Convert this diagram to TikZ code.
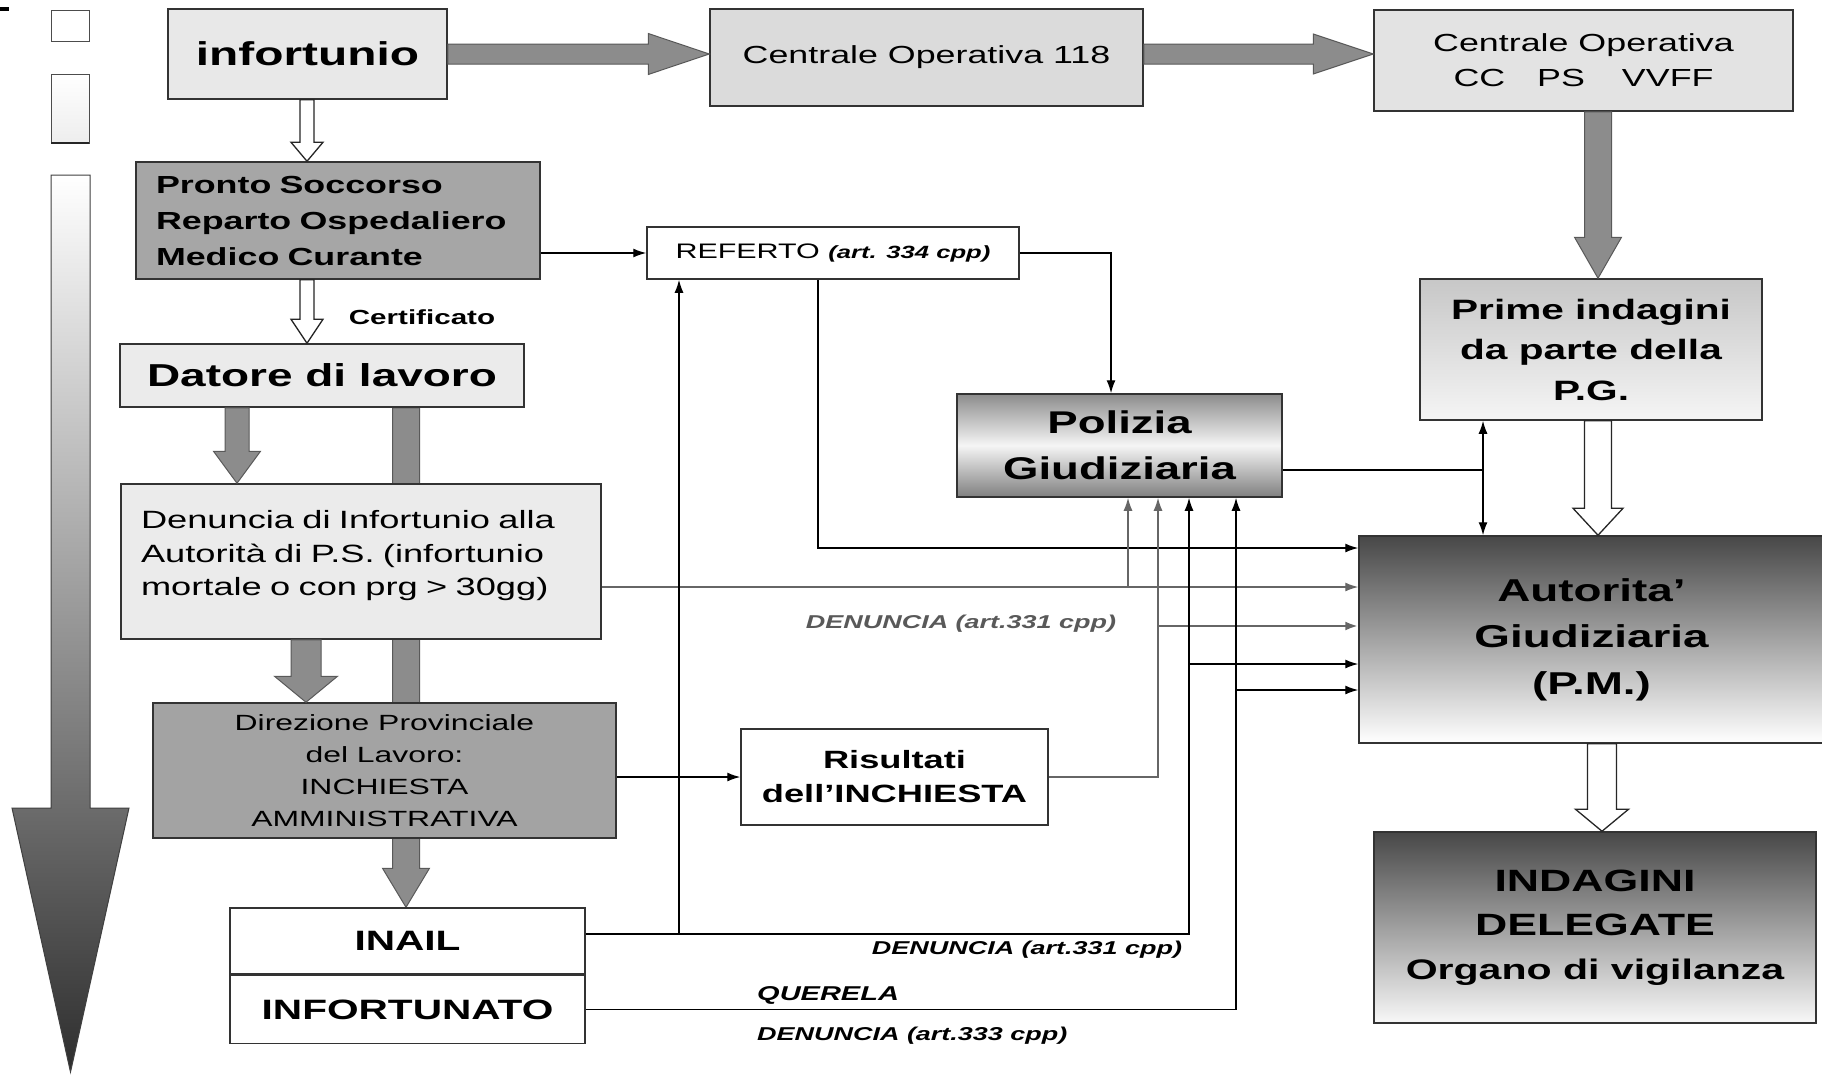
\documentclass[tikz,border=0pt]{standalone}
\usepackage{fontspec}
\setmainfont{Liberation Sans}[FakeStretch=1.45]
\usepackage{tikz}
\usetikzlibrary{calc, positioning, backgrounds, arrows.meta}
\newcommand{\setfs}[2]{\fontsize{#1}{#2}\selectfont}
% block arrow: style, from, to, half shaft, half head, head length
\newcommand{\blockarrow}[6]{%
  \coordinate (ba-s) at ($(#3)!#6!(#2)$);
  \draw [#1] ($(#2)!#4!90:(#3)$) -- ($(ba-s)!#4!90:(#3)$) -- ($(ba-s)!#5!90:(#3)$) -- (#3)
    -- ($(ba-s)!#5!-90:(#3)$) -- ($(ba-s)!#4!-90:(#3)$) -- ($(#2)!#4!-90:(#3)$) -- cycle;
}
\tikzset{
    boxnode/.style = {draw=black!80, line width=1.5pt, rectangle, inner sep=0pt, align=center, node distance=0em},
    lightnode/.style = {boxnode, fill=black!9},
    darknode/.style = {boxnode, fill=black!35},
    whitenode/.style = {boxnode, fill=white},
    textnode/.style = {draw=none, fill=none, rectangle, inner sep=0pt, node distance=0em},
    connect/.style = {black, line width=1.4pt, -{Latex[length=13pt, width=9pt]}},
    grayconnect/.style = {connect, black!60},
    plainline/.style = {black, line width=1.4pt},
    grayarrow/.style = {fill=black!45, draw=black!65, line width=1pt},
    openarrow/.style = {fill=white, draw=black!85, line width=1.3pt},
    labelfont/.style = {font=\setfs{18.6}{22}\bfseries\itshape}
}
\begin{document}
\begin{tikzpicture}[x=1pt, y=-1pt]
    \useasboundingbox (0,0) rectangle (1822,1074);

    % time arrow on the left
    \fill [black] (0,7) rectangle (9,11);
    \draw [black!70, line width=1pt, fill=white] (51,10) rectangle (89,41);
    \shadedraw [top color=white, bottom color=black!7, draw=black!70, line width=1pt] (51,74) rectangle (89,143);
    \draw [black!85, line width=2pt] (51,143) -- (89,143);
    \shadedraw [top color=white, bottom color=black!82, draw=black!75, line width=1pt]
        (51,175) -- (51,808) -- (12,808) -- (70.5,1072) -- (129,808) -- (90,808) -- (90,175) -- cycle;

    % top row
    \node [name=infortunio, lightnode, minimum width=279, minimum height=90,
        font=\setfs{33}{36}\bfseries] at (307.5,54) {infortunio};
    \node [name=co118, boxnode, fill=black!14, minimum width=433, minimum height=97,
        font=\setfs{24.7}{30}] at (926.5,57.5) {Centrale Operativa 118};
    \node [name=cc, boxnode, fill=black!11, minimum width=419, minimum height=101,
        font=\setfs{24.7}{35}] at (1583.5,60.5) {Centrale Operativa\\CC\hspace{32pt}PS\hspace{37pt}VVFF};

    % left column
    \node [name=pronto, darknode, minimum width=404, minimum height=117, text width=364, align=left,
        font=\setfs{24.7}{36}\bfseries] at (338,220.5) {Pronto Soccorso\\Reparto Ospedaliero\\Medico Curante};
    \node [name=certificato, textnode, font=\setfs{20.4}{24}\bfseries] at (422,317) {Certificato};
    \node [name=datore, boxnode, fill=black!8, minimum width=404, minimum height=63,
        font=\setfs{31.7}{36}\bfseries] at (322,375.5) {Datore di lavoro};
    \node [name=denuncia, boxnode, fill=black!8, minimum width=480, minimum height=155, text width=440, align=left,
        font=\setfs{25}{33.5}] at (361,561.5) {Denuncia di Infortunio alla\\Autorità di P.S. (infortunio\\mortale o con prg > 30gg)\\[-17pt]\mbox{}};
    \node [name=direzione, darknode, fill=black!36, minimum width=463, minimum height=135,
        font=\setfs{22}{32}] at (384.5,770.5) {Direzione Provinciale\\del Lavoro:\\INCHIESTA\\AMMINISTRATIVA};
    \node [name=inail, whitenode, minimum width=355, minimum height=66,
        font=\setfs{28}{32}\bfseries] at (407.5,941) {INAIL};
    \node [name=infortunato, whitenode, minimum width=355, minimum height=68,
        font=\setfs{28}{32}\bfseries, below=0pt of inail] {INFORTUNATO};

    % middle
    \node [name=referto, whitenode, minimum width=372, minimum height=52,
        font=\setfs{21}{24}] at (833,253) {REFERTO {\setfs{17.7}{20}\bfseries\itshape (art. 334 cpp)}};
    \node [name=risultati, whitenode, minimum width=307, minimum height=96,
        font=\setfs{25}{34}\bfseries] at (894.5,777) {Risultati\\dell’INCHIESTA};
    \node [name=polizia, boxnode, top color=black!45, bottom color=black!50, middle color=black!4,
        minimum width=325, minimum height=103, font=\setfs{31.4}{46}\bfseries] at (1119.5,445.5) {Polizia\\Giudiziaria};

    % right column
    \node [name=prime, boxnode, top color=black!22, bottom color=black!4, minimum width=342, minimum height=141,
        font=\setfs{28}{40.5}\bfseries] at (1591,349.5) {Prime indagini\\da parte della\\P.G.};
    \node [name=autorita, boxnode, top color=black!72, bottom color=white, minimum width=465, minimum height=207,
        font=\setfs{31.6}{46.5}\bfseries] at (1591.5,639.5) {Autorita’\\Giudiziaria\\(P.M.)};
    \node [name=indagini, boxnode, top color=black!72, bottom color=black!3, minimum width=442, minimum height=191,
        font=\setfs{30.8}{44}\bfseries] at (1595,927.5) {INDAGINI\\DELEGATE\\{\setfs{28.3}{44}Organo di vigilanza}};

    % labels on the connectors
    \node [name=den1, textnode, labelfont, text=black!65] at (961,624) {DENUNCIA (art.331 cpp)};
    \node [name=den2, textnode, labelfont] at (1027,950) {DENUNCIA (art.331 cpp)};
    \node [name=querela, textnode, font=\setfs{20}{24}\bfseries\itshape, anchor=west] at (757,995) {QUERELA};
    \node [name=den3, textnode, labelfont, anchor=west] at (757,1036) {DENUNCIA (art.333 cpp)};

    % entry points
    \coordinate (in1) at (autorita.west |- 0,548);
    \coordinate (in2) at (autorita.west |- 0,587);
    \coordinate (in3) at (autorita.west |- 0,626);
    \coordinate (in4) at (autorita.west |- 0,664);
    \coordinate (in5) at (autorita.west |- 0,690);
    \coordinate (pg1) at (polizia.south -| 1128,0);
    \coordinate (pg2) at (polizia.south -| 1158,0);
    \coordinate (pg3) at (polizia.south -| 1189,0);
    \coordinate (pg4) at (polizia.south -| 1236,0);
    \coordinate (inl) at (inail.east |- 0,934);
    \coordinate (pgm) at (prime.south -| 1483,0);

    % block arrows
    \blockarrow{grayarrow}{infortunio.east}{co118.west |- infortunio.east}{10pt}{20.5pt}{61pt}
    \blockarrow{grayarrow}{co118.east |- infortunio.east}{cc.west |- infortunio.east}{10pt}{20pt}{60pt}
    \blockarrow{grayarrow}{cc.south -| 1598,0}{prime.north -| 1598,0}{13.5pt}{23.5pt}{41pt}
    \blockarrow{openarrow}{prime.south -| 1598,0}{autorita.north -| 1598,0}{13.5pt}{25pt}{27pt}
    \blockarrow{openarrow}{autorita.south -| 1602,0}{indagini.north -| 1602,0}{14.5pt}{26.5pt}{22pt}
    \blockarrow{openarrow}{infortunio.south -| 307,0}{pronto.north -| 307,0}{7pt}{16pt}{19pt}
    \blockarrow{openarrow}{pronto.south -| 307,0}{datore.north -| 307,0}{7pt}{16pt}{24pt}
    \blockarrow{grayarrow}{datore.south -| 237,0}{denuncia.north -| 237,0}{12pt}{23.5pt}{32pt}
    \blockarrow{grayarrow}{denuncia.south -| 306,0}{direzione.north -| 306,0}{15pt}{31.5pt}{26pt}
    \begin{scope}[on background layer]
        \fill [white] (0,0) rectangle (1822,1074);
        \blockarrow{grayarrow}{datore.south -| 406,0}{inail.north -| 406,0}{13.5pt}{23.5pt}{39pt}
    \end{scope}

    % thin connectors
    \draw [connect] (pronto.east |- referto.west) -- (referto.west);
    \draw [connect] (referto.east) -| (polizia.north -| 1111,0);
    \draw [connect] (referto.south -| 818,0) |- (in1);
    \draw [grayconnect] (denuncia.east |- in2) -- (in2);
    \draw [grayconnect] (pg1 |- in2) -- (pg1);
    \draw [grayconnect] (risultati.east) -| (pg2);
    \draw [grayconnect, line width=2.6pt] (pg2 |- in3) -- (in3);
    \draw [connect] (inl) -| (pg3);
    \draw [connect] (pg3 |- in4) -- (in4);
    \draw [connect] (inl -| 679,0) -- (referto.south -| 679,0);
    \draw [connect] (infortunato.east) -| (pg4);
    \draw [connect] (pg4 |- in5) -- (in5);
    \draw [connect] (direzione.east |- risultati.west) -- (risultati.west);
    \draw [plainline] (polizia.east |- 0,470) -- (pgm |- 0,470);
    \draw [connect, {Latex[length=13pt, width=9pt]}-{Latex[length=13pt, width=9pt]}] (pgm) -- (pgm |- autorita.north);
\end{tikzpicture}
\end{document}
